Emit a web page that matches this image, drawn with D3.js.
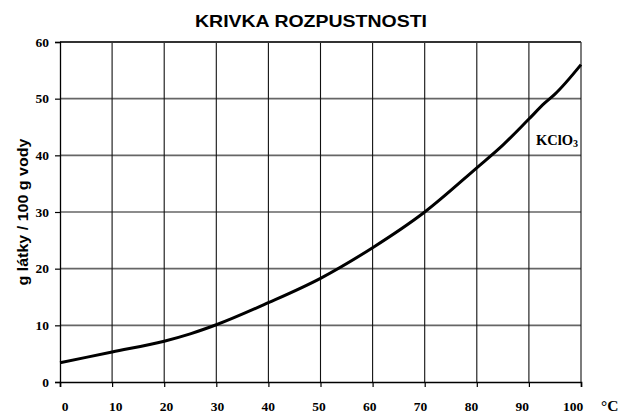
<!DOCTYPE html>
<html>
<head>
<meta charset="utf-8">
<script src="https://cdn.jsdelivr.net/npm/d3@7"></script>
<style>
  body { margin: 0; background: #fff; }
  svg { display: block; }
</style>
</head>
<body>
<div id="chart"></div>
<script>
// solubility of KClO3 (g / 100 g water)
var temps = [0, 10, 20, 25, 30, 40, 50, 60, 70, 80, 85, 90, 93, 95, 100];
var solubility = [3.4, 5.3, 7.2, 8.5, 10.1, 14.0, 18.3, 23.7, 30.0, 37.8, 41.8, 46.4, 49.2, 50.8, 56.0];
var xTicks = [0, 10, 20, 30, 40, 50, 60, 70, 80, 90, 100];
var yTicks = [0, 10, 20, 30, 40, 50, 60];

var width = 620, height = 414;
var margin = { top: 42, left: 60, right: 39, bottom: 32 };

var svg = d3.select("#chart").append("svg")
            .attr("width", width)
            .attr("height", height);

var x = d3.scaleLinear()
          .domain([0, 100])
          .range([margin.left, width - margin.right]);

var y = d3.scaleLinear()
          .domain([0, 60])
          .range([height - margin.bottom, margin.top]);

// the x labels in the original are a bit squeezed inside the grid
var xLabel = d3.scaleLinear()
               .domain([0, 100])
               .range([x(0) + 5, x(100) - 8]);

var serif = "'Liberation Serif', 'Times New Roman', serif";
var sans = "'Liberation Sans', Arial, sans-serif";

// horizontal grid
svg.append("g")
   .selectAll("line")
   .data(yTicks.filter(d => d > 0 && d < 60))
   .enter().append("line")
   .attr("x1", x(0)).attr("x2", x(100))
   .attr("y1", d => y(d)).attr("y2", d => y(d))
   .attr("stroke", "#666")
   .attr("stroke-width", 1.6);

// vertical grid
svg.append("g")
   .selectAll("line")
   .data(xTicks.filter(d => d > 0))
   .enter().append("line")
   .attr("x1", d => x(d)).attr("x2", d => x(d))
   .attr("y1", y(60)).attr("y2", y(0))
   .attr("stroke", "#111")
   .attr("stroke-width", 1.1);

// top frame
svg.append("line")
   .attr("x1", x(0)).attr("x2", x(100))
   .attr("y1", y(60)).attr("y2", y(60))
   .attr("stroke", "#333")
   .attr("stroke-width", 2);

// axes
var yAxis = d3.axisLeft(y).tickValues(yTicks).tickSize(5).tickFormat("");
var gy = svg.append("g")
            .attr("transform", "translate(" + x(0) + ",0)")
            .call(yAxis);
gy.select(".domain").attr("stroke", "#000").attr("stroke-width", 1.3);
gy.selectAll(".tick line").attr("stroke", "#000").attr("stroke-width", 1.2);

var xAxis = d3.axisBottom(x).tickValues(xTicks).tickSize(5).tickFormat("");
var gx = svg.append("g")
            .attr("transform", "translate(0," + y(0) + ")")
            .call(xAxis);
gx.select(".domain").attr("stroke", "#000").attr("stroke-width", 1.6);
gx.selectAll(".tick line").attr("stroke", "#000").attr("stroke-width", 1.2);

// tick labels
svg.append("g")
   .selectAll("text")
   .data(yTicks)
   .enter().append("text")
   .attr("x", x(0) - 11)
   .attr("y", d => y(d) + 4.5)
   .attr("text-anchor", "end")
   .attr("font-family", serif)
   .attr("font-weight", "bold")
   .attr("font-size", 13.5)
   .text(d => d);

svg.append("g")
   .selectAll("text")
   .data(xTicks)
   .enter().append("text")
   .attr("x", d => xLabel(d))
   .attr("y", 410.5)
   .attr("text-anchor", "middle")
   .attr("font-family", serif)
   .attr("font-weight", "bold")
   .attr("font-size", 13.5)
   .text(d => d);

svg.append("text")
   .attr("x", 601)
   .attr("y", 410.5)
   .attr("font-family", serif)
   .attr("font-weight", "bold")
   .attr("font-size", 15.5)
   .text("°C");

// axis title
svg.append("text")
   .attr("transform", "translate(28," + ((y(0) + y(60)) / 2) + ") rotate(-90)")
   .attr("text-anchor", "middle")
   .attr("font-family", sans)
   .attr("font-weight", "bold")
   .attr("font-size", 15)
   .attr("textLength", 147)
   .attr("lengthAdjust", "spacingAndGlyphs")
   .text("g látky / 100 g vody");

// chart title
svg.append("text")
   .attr("x", 311)
   .attr("y", 27)
   .attr("text-anchor", "middle")
   .attr("font-family", sans)
   .attr("font-weight", "bold")
   .attr("font-size", 16.5)
   .attr("textLength", 232)
   .attr("lengthAdjust", "spacingAndGlyphs")
   .text("KRIVKA ROZPUSTNOSTI");

// curve
var line = d3.line()
             .x((d, i) => x(temps[i]))
             .y(d => y(d))
             .curve(d3.curveMonotoneX);

svg.append("path")
   .datum(solubility)
   .attr("d", line)
   .attr("fill", "none")
   .attr("stroke", "#000")
   .attr("stroke-width", 3);

// series label
var lbl = svg.append("text")
             .attr("x", 536)
             .attr("y", 145)
             .attr("font-family", serif)
             .attr("font-weight", "bold")
             .attr("font-size", 14.5)
             .text("KClO");
lbl.append("tspan")
   .attr("font-size", 10)
   .attr("dy", 2)
   .text("3");
</script>
</body>
</html>
